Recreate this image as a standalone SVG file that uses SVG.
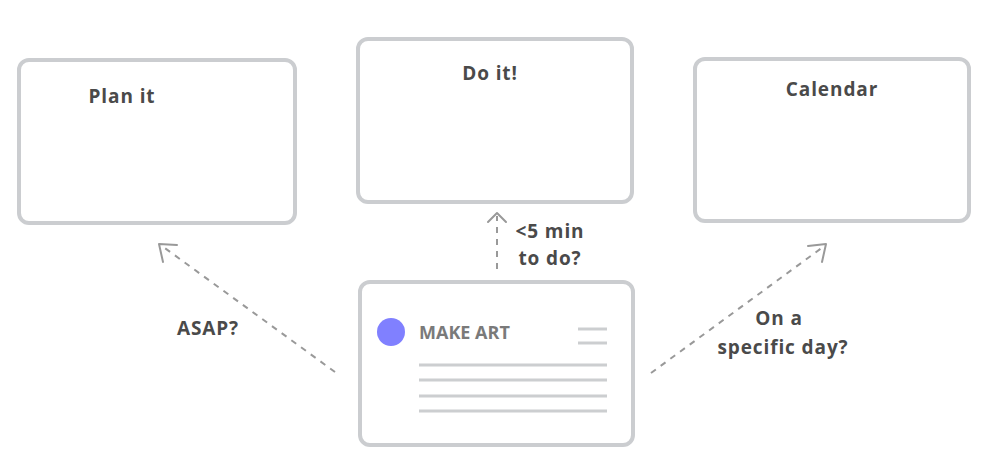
<svg xmlns="http://www.w3.org/2000/svg" width="1000" height="464" viewBox="0 0 1000 464">
<defs>
<style>
.box{fill:#fff;stroke:#cbcdd0;stroke-width:4}
.lbl{font-family:"Open Sans","Liberation Sans",sans-serif;font-weight:bold;font-size:19px;fill:#4a4a4a;text-anchor:middle;letter-spacing:0.9px}
.conn{fill:none;stroke:#999;stroke-width:2;stroke-dasharray:6 6}
.head{fill:none;stroke:#999;stroke-width:2;stroke-linecap:round;stroke-linejoin:round}
.ln{stroke:#ccced0;stroke-width:3}
</style>
</defs>
<rect width="1000" height="464" fill="#fff"/>
<g id="plan">
<rect class="box" x="19" y="60" width="276" height="163" rx="10"/>
<text class="lbl" x="122" y="103">Plan it</text>
</g>
<g id="doit">
<rect class="box" x="358" y="39" width="274" height="163" rx="10"/>
<text class="lbl" x="490" y="80">Do it!</text>
</g>
<g id="calendar">
<rect class="box" x="695" y="59" width="274" height="162" rx="10"/>
<text class="lbl" x="832" y="96">Calendar</text>
</g>
<g id="task">
<rect class="box" x="360" y="282" width="273" height="163" rx="10"/>
<circle cx="391" cy="332" r="14" fill="#8080ff"/>
<text x="419" y="339" font-family="'Open Sans','Liberation Sans',sans-serif" font-weight="bold" font-size="18" fill="#7a7a7a">MAKE ART</text>
<line class="ln" x1="578" y1="329" x2="607" y2="329"/>
<line class="ln" x1="578" y1="343" x2="607" y2="343"/>
<line class="ln" x1="419" y1="365" x2="607" y2="365"/>
<line class="ln" x1="419" y1="380" x2="607" y2="380"/>
<line class="ln" x1="419" y1="396" x2="607" y2="396"/>
<line class="ln" x1="419" y1="411" x2="607" y2="411"/>
</g>
<g id="connectors">
<line class="conn" x1="335" y1="372" x2="162" y2="246"/>
<polyline class="head" points="177,245 159,244 163,262"/>
<line class="conn" x1="497" y1="269" x2="497" y2="216"/>
<polyline class="head" points="488,222 497,213 506,222"/>
<line class="conn" x1="651" y1="373" x2="823" y2="247"/>
<polyline class="head" points="808,246 826,244 822,262"/>
</g>
<g id="labels">
<text class="lbl" x="208" y="335">ASAP?</text>
<text class="lbl" x="550" y="238">&lt;5 min</text>
<text class="lbl" x="550" y="265">to do?</text>
<text class="lbl" x="779" y="325">On a</text>
<text class="lbl" x="783" y="354">specific day?</text>
</g>
</svg>
